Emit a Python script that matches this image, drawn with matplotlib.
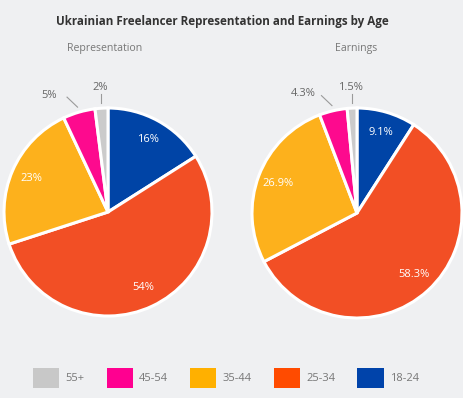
import numpy as np
import matplotlib
matplotlib.use("Agg")
import matplotlib.pyplot as plt
from matplotlib.patches import Patch

plt.rcParams['font.family'] = ['Open Sans', 'DejaVu Sans']

categories = ['18-24', '25-34', '35-44', '45-54', '55+']
representation = [16, 54, 23, 5, 2]
earnings = [9.1, 58.3, 26.9, 4.3, 1.5]
rep_labels = ['16%', '54%', '23%', '5%', '2%']
earn_labels = ['9.1%', '58.3%', '26.9%', '4.3%', '1.5%']

pie_colors = ['#0044a6', '#f24f25', '#fdb11c', '#fd0a8e', '#cbcbcb']
legend_colors = ['#0043aa', '#ff4b00', '#ffb000', '#ff0090', '#c8c8c8']
bg = '#eff0f2'

W, H = 464, 398
fig = plt.figure(figsize=(W / 100, H / 100), dpi=100, facecolor=bg)


def px_axes(cx, cy, r):
    return fig.add_axes([(cx - r) / W, (H - cy - r) / H, 2 * r / W, 2 * r / H])


def draw_pie(ax, values, labels, rpx):
    ax.set_facecolor(bg)
    wedges, _ = ax.pie(values, colors=pie_colors, startangle=90, counterclock=False,
                       wedgeprops=dict(edgecolor='white', linewidth=2.2))
    ax.set_xlim(-1, 1)
    ax.set_ylim(-1, 1)
    ax.set_aspect('equal')
    ax.axis('off')
    u = 1.0 / rpx
    for i, (w, lab, v) in enumerate(zip(wedges, labels, values)):
        ang = np.deg2rad((w.theta1 + w.theta2) / 2)
        c, s = np.cos(ang), np.sin(ang)
        if v >= 8:
            ax.text(0.8 * c, 0.8 * s, lab, ha='center', va='center', color='white',
                    fontsize=8)
        elif i == 3:
            x0, y0 = 1.05 * c, 1.05 * s
            x1, y1 = x0 - 10.5 * u, y0 + 10 * u
            ax.plot([x0, x1], [y0, y1], color='#9a9a9a', lw=0.8, clip_on=False)
            ax.text(x1 - 18 * u, y1 + 2 * u, lab, ha='center', va='center',
                    color='#666666', fontsize=8, clip_on=False)
        else:
            x0 = 1.05 * c
            ax.plot([x0, x0], [1.05, 1.13], color='#9a9a9a', lw=0.8, clip_on=False)
            ax.text(x0 - 1 * u, 1.2, lab, ha='center', va='center',
                    color='#666666', fontsize=8, clip_on=False)


ax1 = px_axes(108, 212, 104)
draw_pie(ax1, representation, rep_labels, 104)
ax2 = px_axes(357, 213, 105)
draw_pie(ax2, earnings, earn_labels, 105)

fig.text(222 / W, 1 - 21 / H, 'Ukrainian Freelancer Representation and Earnings by Age',
         ha='center', va='center', fontsize=8.4, fontweight='bold', color='#333333')
fig.text(105 / W, 1 - 49 / H, 'Representation', ha='center', va='center',
         fontsize=7.6, color='#777777')
fig.text(356 / W, 1 - 49 / H, 'Earnings', ha='center', va='center',
         fontsize=7.6, color='#777777')

order = [4, 3, 2, 1, 0]
handles = [Patch(facecolor=legend_colors[i], edgecolor='none') for i in order]
leg = fig.legend(handles, [categories[i] for i in order], loc='center',
                 bbox_to_anchor=(226 / W, (H - 378) / H), ncol=5, frameon=False,
                 fontsize=8, handlelength=2.35, handleheight=2.3,
                 handletextpad=0.55, columnspacing=2.0, labelcolor='#777777')

fig.savefig('out.png', dpi=100, facecolor=bg)
